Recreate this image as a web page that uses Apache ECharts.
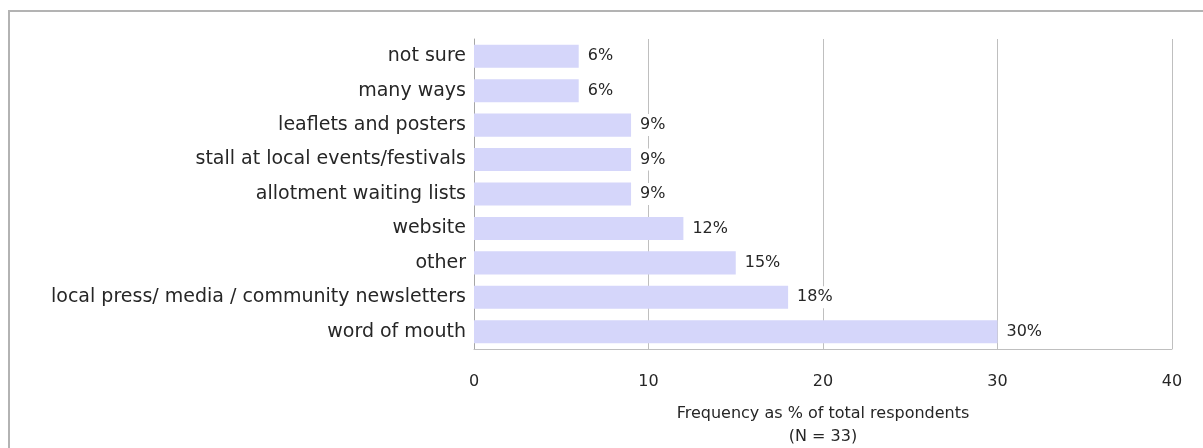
<!DOCTYPE html>
<html>
<head>
<meta charset="utf-8">
<script src="https://cdn.jsdelivr.net/npm/echarts@6/dist/echarts.min.js"></script>
<style>
  html, body { margin: 0; padding: 0; background: #ffffff; overflow: hidden; }
  #chart { width: 1203px; height: 448px; }
</style>
</head>
<body>
<div id="chart"></div>
<script>
// How respondents heard about the project (% of 33 respondents)
const categories = [
  'not sure',
  'many ways',
  'leaflets and posters',
  'stall at local events/festivals',
  'allotment waiting lists',
  'website',
  'other',
  'local press/ media / community newsletters',
  'word of mouth'
];
const percentValues = [6, 6, 9, 9, 9, 12, 15, 18, 30];
const xTicks = [0, 10, 20, 30, 40];
const axisTitle = 'Frequency as % of total respondents\n(N = 33)';

const FONT = 'DejaVu Sans';
const TEXT = '#262626';
const GRID = '#bfbfbf';

const chart = echarts.init(document.getElementById('chart'), null, { renderer: 'canvas' });

chart.setOption({
  animation: false,
  backgroundColor: '#ffffff',
  textStyle: { fontFamily: FONT, color: TEXT },
  graphic: [{
    type: 'rect',
    silent: true,
    shape: { x: 9, y: 11, width: 1400, height: 700 },
    style: { fill: 'none', stroke: '#b3b3b3', lineWidth: 2 }
  }],
  grid: {
    left: 474, right: 31, top: 39, bottom: 99,
    containLabel: false,
    outerBoundsMode: 'none'
  },
  xAxis: {
    type: 'value',
    min: xTicks[0],
    max: xTicks[xTicks.length - 1],
    interval: 10,
    axisLine: { show: true, lineStyle: { color: GRID, width: 1 } },
    axisTick: { show: false },
    splitLine: { show: true, lineStyle: { color: GRID, width: 1 } },
    axisLabel: { margin: 25, fontSize: 16, color: TEXT, fontFamily: FONT },
    name: axisTitle,
    nameLocation: 'middle',
    nameGap: 53,
    nameTextStyle: { fontSize: 16, color: TEXT, fontFamily: FONT, lineHeight: 23 }
  },
  yAxis: {
    type: 'category',
    data: categories,
    inverse: true,
    axisLine: { show: true, lineStyle: { color: '#a6a6a6', width: 1 } },
    axisTick: { show: false },
    axisLabel: { margin: 8, fontSize: 19, color: TEXT, fontFamily: FONT }
  },
  series: [{
    type: 'bar',
    data: percentValues,
    barCategoryGap: '33%',
    itemStyle: { color: '#d5d6fa' },
    label: {
      show: true,
      position: 'right',
      distance: 3,
      formatter: '{c}%',
      fontSize: 16,
      color: TEXT,
      fontFamily: FONT,
      backgroundColor: '#ffffff',
      padding: [3, 6]
    }
  }]
});
</script>
</body>
</html>
